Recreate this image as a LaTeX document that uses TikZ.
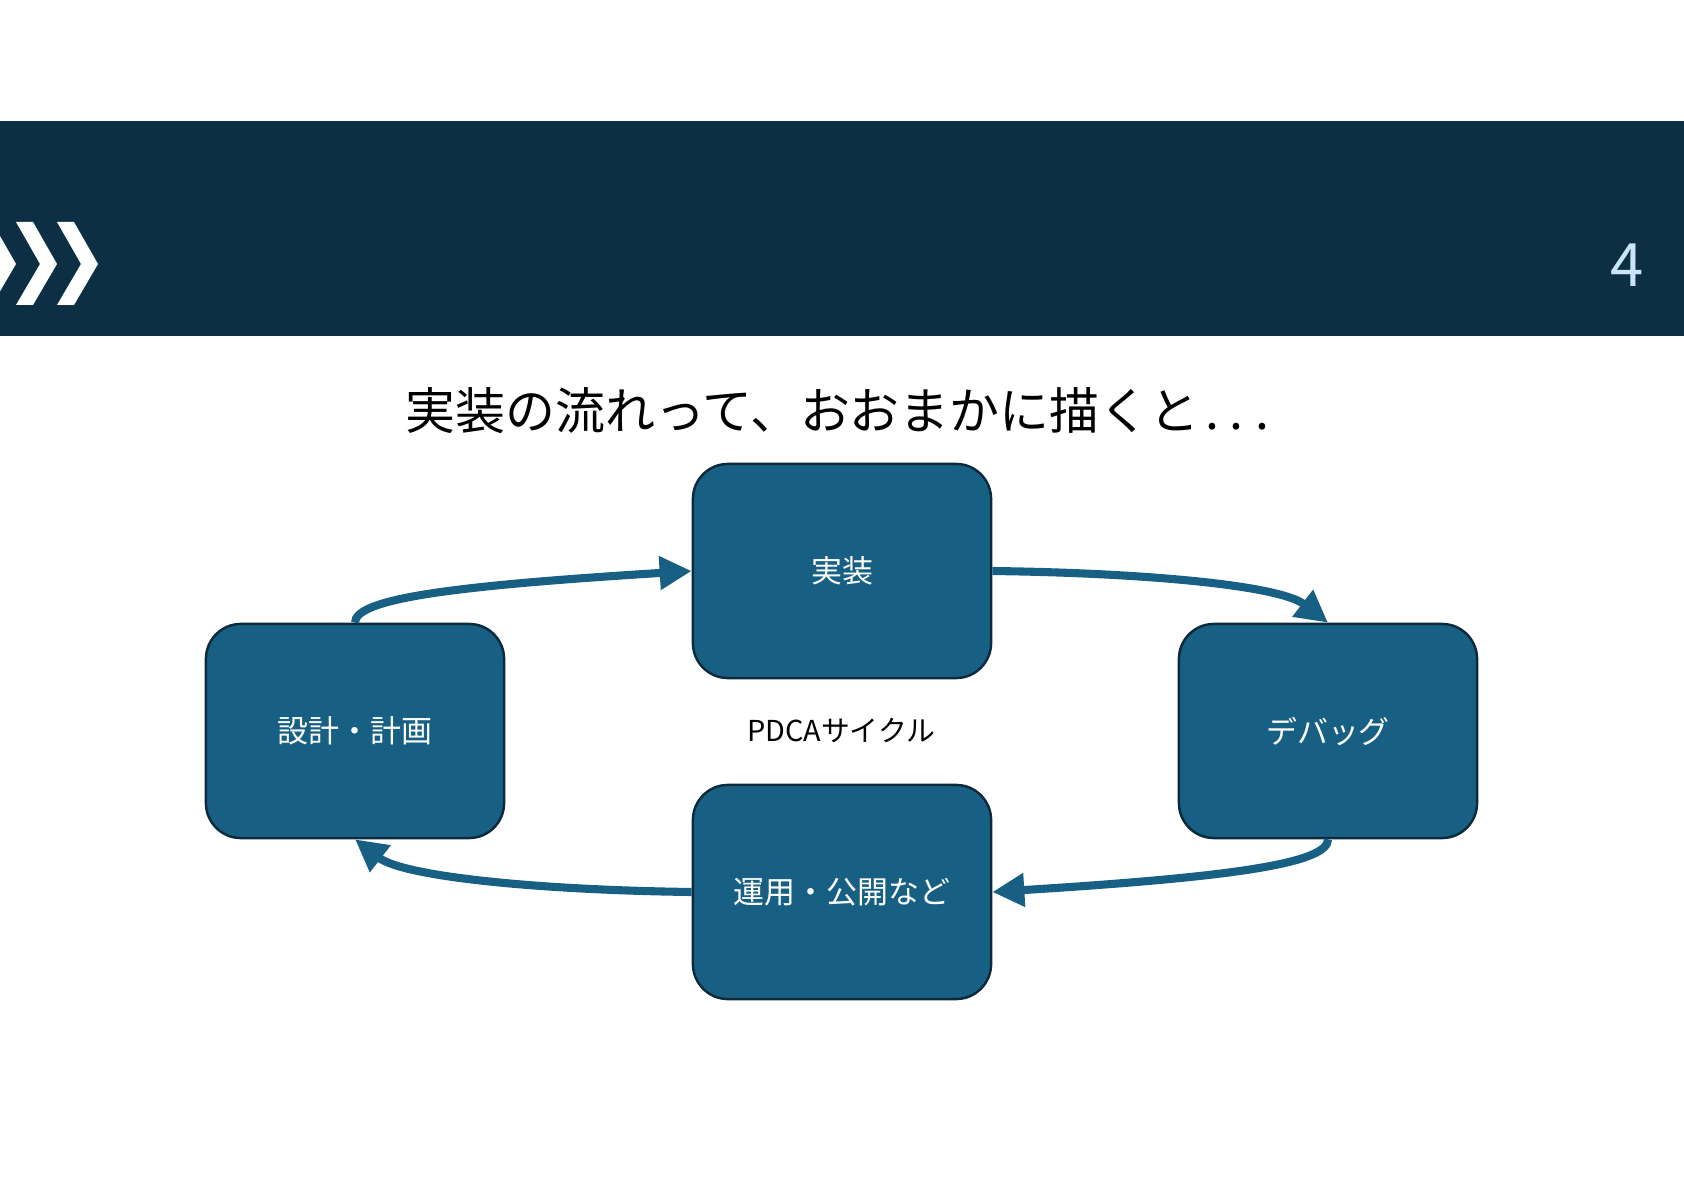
\documentclass[tikz,border=0pt]{standalone}
\usepackage{fontspec}
\setmainfont{Noto Sans CJK JP}
\usetikzlibrary{arrows.meta}
\definecolor{bandblue}{HTML}{0D2F44}
\definecolor{boxblue}{HTML}{186083}
\definecolor{boxline}{HTML}{0C2A3C}
\definecolor{pagenum}{HTML}{CBE5F6}

\begin{document}
\begin{tikzpicture}[x=0.01cm,y=0.01cm,
    stage/.style={draw=boxline, line width=0.7pt, fill=boxblue,
        rounded corners=0.35cm, minimum width=2.98cm, minimum height=2.14cm,
        inner sep=0pt, text=white, font=\fontsize{8.8pt}{10pt}\selectfont},
    flow/.style={draw=boxblue, line width=2.3pt,
        -{Triangle[length=0.32cm,width=0.32cm]}}]
    \useasboundingbox (0,0) rectangle (1684,-1191);
    \clip (0,0) rectangle (1684,-1191);

    % header band
    \fill[bandblue] (0,-121) rectangle (1684,-336);
    \foreach \dx in {-41,0,41}
        \fill[white] ({\dx+16},-222) -- ({\dx+33},-222) -- ({\dx+57},-264)
            -- ({\dx+33},-305) -- ({\dx+16},-305) -- ({\dx+40},-264) -- cycle;
    \node[text=pagenum, font=\fontsize{17pt}{20pt}\selectfont] (num) at (1627,-265) {4};

    \node[font=\fontsize{14.2pt}{16pt}\selectfont] (title) at (840,-411)
        {実装の流れって、おおまかに描くと\makebox[0.5em]{.}\makebox[0.5em]{.}\makebox[0.5em]{.}};

    \node[stage] (impl) at (842,-571) {実装};
    \node[stage] (plan) at (355,-731) {設計・計画};
    \node[stage] (debug) at (1328,-731) {デバッグ};
    \node[stage] (ops) at (842,-892) {運用・公開など};
    \node[font=\fontsize{8.2pt}{10pt}\selectfont] (cycle) at (841,-731) {PDCAサイクル};

    \draw[flow] (plan.north) .. controls +(0,24) and +(-241,-15) .. (impl.west);
    \draw[flow] (impl.east) .. controls +(157,-2) and +(-48,37) .. (debug.north);
    \draw[flow] (debug.south) .. controls +(0,-24) and +(241,15) .. (ops.east);
    \draw[flow] (ops.west) .. controls +(-157,2) and +(48,-37) .. (plan.south);
\end{tikzpicture}
\end{document}
